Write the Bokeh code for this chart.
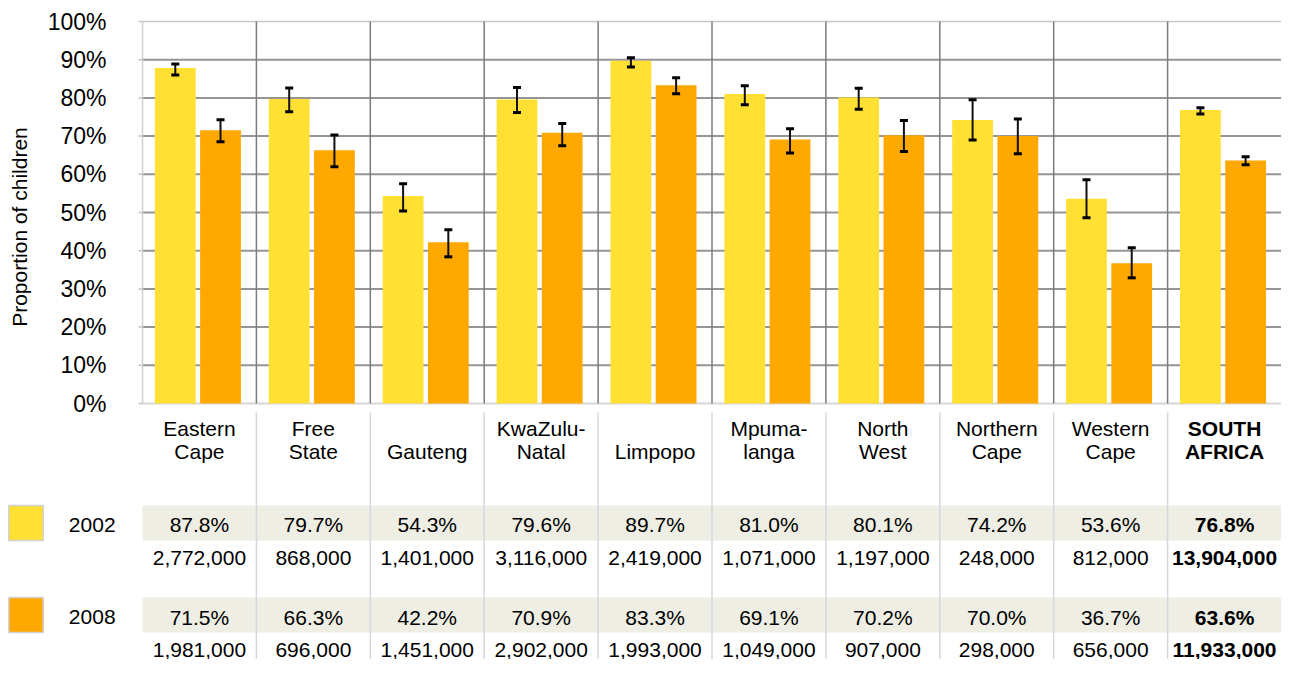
import math
from bokeh.plotting import figure
from bokeh.models import ColumnDataSource, Range1d, Whisker, TeeHead
from bokeh.core.properties import value
from bokeh.embed import file_html
from bokeh.resources import INLINE

# ---------------- data ----------------
categories = ["Eastern\nCape", "Free\nState", "Gauteng", "KwaZulu-\nNatal", "Limpopo",
              "Mpuma-\nlanga", "North\nWest", "Northern\nCape", "Western\nCape", "SOUTH\nAFRICA"]
years = ["2002", "2008"]
pct_2002 = [87.8, 79.7, 54.3, 79.6, 89.7, 81.0, 80.1, 74.2, 53.6, 76.8]
pct_2008 = [71.5, 66.3, 42.2, 70.9, 83.3, 69.1, 70.2, 70.0, 36.7, 63.6]
lo_2002 = [86.0, 76.4, 50.4, 76.2, 88.1, 78.2, 77.0, 69.0, 48.6, 75.8]
hi_2002 = [88.9, 82.6, 57.5, 82.7, 90.5, 83.2, 82.5, 79.5, 58.6, 77.4]
lo_2008 = [68.5, 62.0, 38.4, 67.5, 81.1, 65.6, 66.0, 65.4, 32.9, 62.5]
hi_2008 = [74.3, 70.3, 45.5, 73.3, 85.3, 71.9, 74.1, 74.5, 40.8, 64.6]
n_2002 = [2772000, 868000, 1401000, 3116000, 2419000, 1071000, 1197000, 248000, 812000, 13904000]
n_2008 = [1981000, 696000, 1451000, 2902000, 1993000, 1049000, 907000, 298000, 656000, 11933000]
y_ticks = [0, 10, 20, 30, 40, 50, 60, 70, 80, 90, 100]
y_title = "Proportion of children"

# ---------------- style / layout (pixels) ----------------
YELLOW = "#FFE033"
ORANGE = "#FFA800"
BAND = "#EEEEE4"
FONT = value("Liberation Sans")
W, H = 1281, 659
FR_L, FR_T, FR_B = 142, 21, 403          # chart frame left / top(100%) / bottom(0%)
ncat = len(categories)
COLW = (W - FR_L) / ncat                 # px per category
PXU = (FR_B - FR_T) / 100.0              # px per percent
OFF_A, OFF_B, BW = 0.288, 0.685, 0.358

def cx_px(px):                           # page x pixel -> category units
    return (px - FR_L) / COLW

p = figure(width=W, height=H,
           x_range=Range1d(cx_px(0), ncat),
           y_range=Range1d(-(H - FR_B) / PXU, 100 + FR_T / PXU),
           output_backend="svg", toolbar_location=None,
           min_border_left=0, min_border_right=0, min_border_top=0, min_border_bottom=0)
p.extra_y_ranges = {"px": Range1d(H, 0)}
p.outline_line_color = None
p.axis.visible = False
p.grid.visible = False
p.background_fill_color = "white"
p.border_fill_color = "white"

idx = list(range(ncat))

# ---- chart grid ----
grid_y = y_ticks[1:-1]
p.segment(x0=[0] * len(grid_y), x1=[ncat] * len(grid_y), y0=grid_y, y1=grid_y,
          line_color="#959595", line_width=2)
p.segment(x0=[0], x1=[ncat], y0=[y_ticks[-1]], y1=[y_ticks[-1]], line_color="#c8c8c8", line_width=1.5)
p.segment(x0=[0], x1=[ncat], y0=[y_ticks[0]], y1=[y_ticks[0]], line_color="#d6d6d6", line_width=2)
p.segment(x0=idx[1:], x1=idx[1:], y0=[y_ticks[0]] * (ncat - 1), y1=[y_ticks[-1]] * (ncat - 1),
          line_color="#7c7c7c", line_width=1.5)
# y axis line and ticks
p.segment(x0=[0], x1=[0], y0=[y_ticks[0]], y1=[y_ticks[-1]], line_color="#cfcfcf", line_width=1.5)
p.segment(x0=[cx_px(FR_L - 4)] * len(y_ticks), x1=[0] * len(y_ticks), y0=y_ticks, y1=y_ticks,
          line_color="#c4c4c4", line_width=1.5)
p.text(x=[cx_px(106)] * len(y_ticks), y=y_ticks, text=["%d%%" % v for v in y_ticks],
       text_align="right", text_baseline="middle", text_font=FONT, text_font_size="23px",
       text_color="black")
p.text(x=[cx_px(19)], y=[46.2], text=[y_title], angle=math.pi / 2,
       text_align="center", text_baseline="middle", text_font=FONT, text_font_size="21px",
       text_color="black")

# ---- bars and error bars ----
src_a = ColumnDataSource(dict(x=[i + OFF_A for i in idx], top=pct_2002, lo=lo_2002, hi=hi_2002))
src_b = ColumnDataSource(dict(x=[i + OFF_B for i in idx], top=pct_2008, lo=lo_2008, hi=hi_2008))
p.vbar(x="x", top="top", bottom=0, width=BW, source=src_a, fill_color=YELLOW, line_color=None)
p.vbar(x="x", top="top", bottom=0, width=BW, source=src_b, fill_color=ORANGE, line_color=None)
for s in (src_a, src_b):
    p.add_layout(Whisker(source=s, base="x", lower="lo", upper="hi", level="overlay",
                         line_color="#111111", line_width=2,
                         upper_head=TeeHead(size=8, line_width=3, line_color="black"),
                         lower_head=TeeHead(size=8, line_width=3, line_color="black")))

# ---- table (y in page pixels) ----
rows = {"2002": dict(band=(505, 540), pct=524, cnt=557),
        "2008": dict(band=(597, 632), pct=616.5, cnt=649)}
colors = {"2002": YELLOW, "2008": ORANGE}
pcts = {"2002": pct_2002, "2008": pct_2008}
counts = {"2002": n_2002, "2008": n_2008}

for yr in years:
    b0, b1 = rows[yr]["band"]
    p.quad(left=0, right=ncat, top=b0, bottom=b1, fill_color=BAND, line_color=None, y_range_name="px")
    p.quad(left=cx_px(8.3), right=cx_px(42.7), top=b0, bottom=b1, fill_color=colors[yr],
           line_color="#d0d0d0", line_width=1.5, y_range_name="px")
    p.text(x=[cx_px(91.7)], y=[rows[yr]["pct"]], text=[yr], text_align="center",
           text_baseline="middle", text_font=FONT, text_font_size="21px", text_color="black",
           y_range_name="px")

p.segment(x0=idx[1:], x1=idx[1:], y0=[412] * (ncat - 1), y1=[H] * (ncat - 1),
          line_color="#d6d6de", line_width=1.5, y_range_name="px")

line1 = [c.split("\n")[0] if "\n" in c else "" for c in categories]
line2 = [c.split("\n")[-1] for c in categories]
cx = [i + 0.5 for i in idx]

def txt(xs, ys, texts, bold):
    p.text(x=xs, y=ys, text=texts, text_align="center", text_baseline="middle",
           text_font=FONT, text_font_size="21px",
           text_font_style="bold" if bold else "normal", text_color="black", y_range_name="px")

n = ncat - 1
txt(cx[:n], [428] * n, line1[:n], False)
txt(cx[:n], [451] * n, line2[:n], False)
txt(cx[n:], [428], line1[n:], True)
txt(cx[n:], [451], line2[n:], True)
for yr in years:
    ptxt = ["%.1f%%" % v for v in pcts[yr]]
    ctxt = ["{:,}".format(v) for v in counts[yr]]
    txt(cx[:n], [rows[yr]["pct"]] * n, ptxt[:n], False)
    txt(cx[:n], [rows[yr]["cnt"]] * n, ctxt[:n], False)
    txt(cx[n:], [rows[yr]["pct"]], ptxt[n:], True)
    txt(cx[n:], [rows[yr]["cnt"]], ctxt[n:], True)

open("out.html", "w").write(file_html(p, INLINE))
